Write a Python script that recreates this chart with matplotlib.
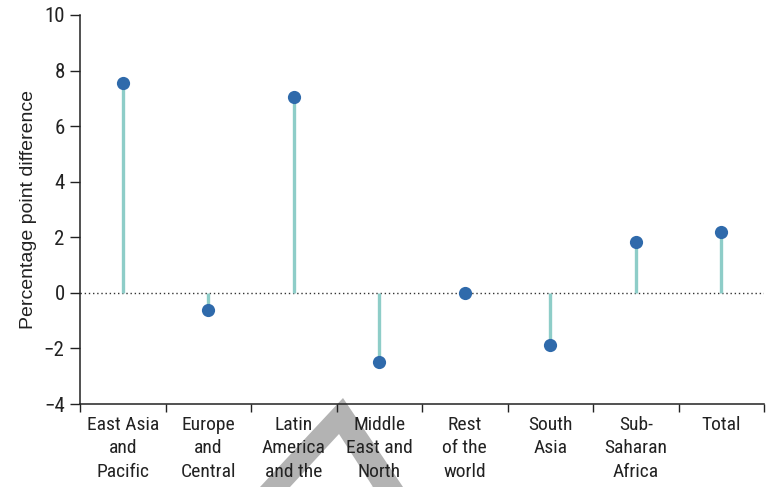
import matplotlib
matplotlib.use("Agg")
import matplotlib.pyplot as plt
from matplotlib.patches import Polygon
import numpy as np

plt.rcParams['font.family'] = ['Roboto Condensed', 'IBM Plex Sans Condensed', 'Roboto', 'DejaVu Sans']

regions = [
    "East Asia\nand\nPacific",
    "Europe\nand\nCentral\nAsia",
    "Latin\nAmerica\nand the\nCaribbean",
    "Middle\nEast and\nNorth\nAfrica",
    "Rest\nof the\nworld",
    "South\nAsia",
    "Sub-\nSaharan\nAfrica",
    "Total",
]
pp_difference = [7.55, -0.6, 7.05, -2.5, 0.0, -1.88, 1.82, 2.18]
y_ticks = [-4, -2, 0, 2, 4, 6, 8, 10]

stem_color = "#8ecdc8"
dot_color = "#2f6aab"
text_color = "#222222"

W, H = 772, 487
fig = plt.figure(figsize=(W / 100, H / 100), dpi=100)
ax = fig.add_axes([80 / W, (H - 404) / H, (764 - 80) / W, (404 - 15) / H])
ax.set_facecolor("none")

x = np.arange(len(regions))
ax.vlines(x, 0, pp_difference, color=stem_color, lw=2.4, zorder=2)
ax.plot(x, pp_difference, "o", color=dot_color, ms=9.5, mec="none", zorder=3)
ax.axhline(0, color="#333333", lw=1.0, ls=(0, (1, 2)), zorder=1)

ax.set_xlim(-0.5, len(regions) - 0.5)
ax.set_ylim(-4, 10)
ax.set_yticks(y_ticks)
ax.set_yticklabels([f"{v}".replace("-", "\u2212") for v in y_ticks])
ax.set_xticks(x)
ax.set_xticklabels(regions, linespacing=1.4, va="top")
ax.set_xticks(np.arange(len(regions) + 1) - 0.5, minor=True)
ax.tick_params(axis="x", which="major", length=0, pad=8.5, labelsize=14, colors=text_color)
ax.tick_params(axis="x", which="minor", length=6, width=1, color="#222222")
ax.tick_params(axis="y", length=7, width=1, labelsize=15, colors=text_color, pad=4)

for side in ("top", "right"):
    ax.spines[side].set_visible(False)
for side in ("left", "bottom"):
    ax.spines[side].set_color("#222222")
    ax.spines[side].set_linewidth(1.1)

ax.set_ylabel("Percentage point difference", fontsize=14, color=text_color,
              labelpad=5, family=['Liberation Sans', 'DejaVu Sans'])

# grey chevron mark sitting behind the category labels
chevron = [(260, 487), (343, 398), (403, 487), (373, 487), (339, 434), (290, 487)]
fig.patches.append(Polygon([(px / W, 1 - py / H) for px, py in chevron],
                           closed=True, transform=fig.transFigure,
                           facecolor="#b3b3b3", edgecolor="none", zorder=-1))

fig.savefig("out.png", dpi=100)
